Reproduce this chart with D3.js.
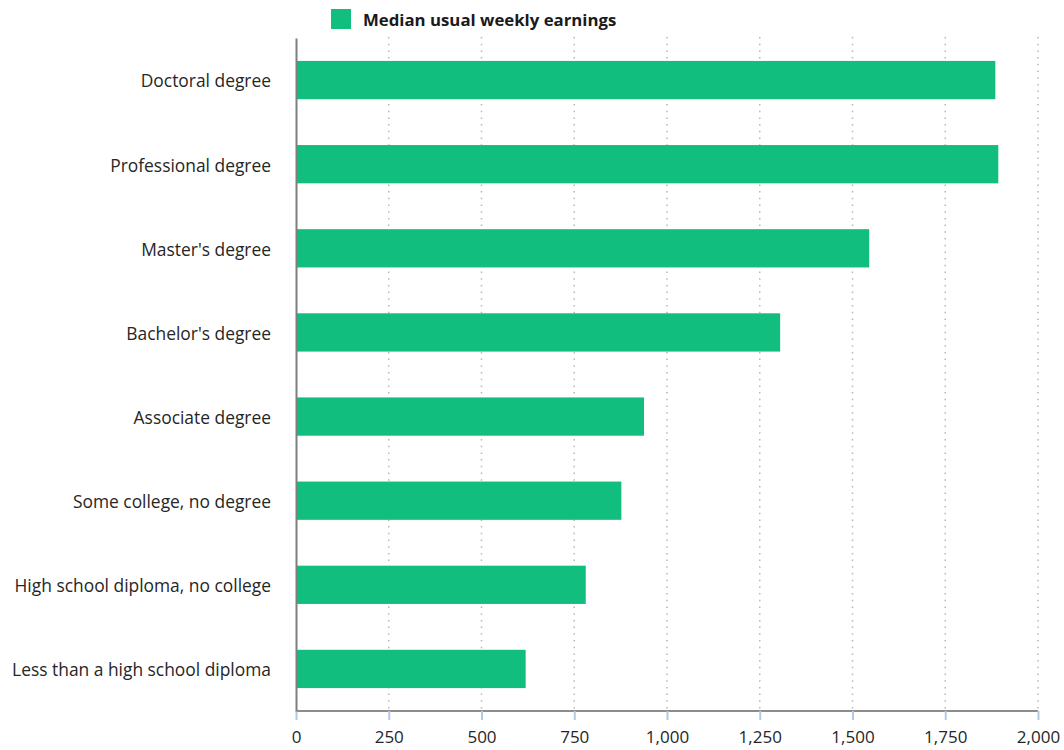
<!DOCTYPE html>
<html>
<head>
<meta charset="utf-8">
<script src="https://cdn.jsdelivr.net/npm/d3@7"></script>
<style>
  body { margin: 0; background: #fff; }
  text { font-family: "Open Sans", sans-serif; }
</style>
</head>
<body>
<div id="chart-area"></div>
<script>
// median usual weekly earnings by education
var categories = [
  "Doctoral degree",
  "Professional degree",
  "Master's degree",
  "Bachelor's degree",
  "Associate degree",
  "Some college, no degree",
  "High school diploma, no college",
  "Less than a high school diploma"
];
var earnings = [1885, 1893, 1545, 1305, 938, 877, 781, 619];
var xTicks = [0, 250, 500, 750, 1000, 1250, 1500, 1750, 2000];
var seriesName = "Median usual weekly earnings";

var data = categories.map((c, i) => ({ cat: c, value: earnings[i] }));

var width = 1064;
var height = 750;
var margin = { top: 38, right: 26, bottom: 39, left: 296 };
var chartWidth = width - margin.left - margin.right;
var chartHeight = height - margin.top - margin.bottom;

var svg = d3.select("#chart-area")
  .append("svg")
  .attr("width", width)
  .attr("height", height);

var g = svg.append("g")
  .attr("transform", "translate(" + margin.left + ", " + margin.top + ")");

var x = d3.scaleLinear()
  .domain([0, 2000])
  .range([0, chartWidth]);

var y = d3.scaleBand()
  .domain(categories)
  .range([0, chartHeight])
  .paddingInner(0.545)
  .paddingOuter(0.2725);

// dotted gridlines
g.selectAll(".grid")
  .data(xTicks.slice(1))
  .enter().append("line")
  .attr("class", "grid")
  .attr("x1", d => x(d))
  .attr("x2", d => x(d))
  .attr("y1", -1)
  .attr("y2", chartHeight)
  .attr("stroke", "#b8b8b8")
  .attr("stroke-width", 1.5)
  .attr("stroke-dasharray", "1.5,5.2");

// bars
g.selectAll(".bar")
  .data(data)
  .enter().append("rect")
  .attr("class", "bar")
  .attr("x", x(0))
  .attr("y", d => y(d.cat))
  .attr("width", d => x(d.value) - x(0))
  .attr("height", y.bandwidth())
  .attr("fill", "#11be7d");

// x axis
var xAxisG = g.append("g")
  .attr("transform", "translate(0, " + chartHeight + ")")
  .call(d3.axisBottom(x).tickValues(xTicks).tickSize(9).tickPadding(11).tickFormat(d3.format(",")));
xAxisG.select(".domain").attr("stroke", "#8c8c8c").attr("stroke-width", 2).attr("d", "M0,0H" + chartWidth);
xAxisG.selectAll(".tick line").attr("stroke", "#b4c7e7").attr("stroke-width", 2);
xAxisG.selectAll(".tick text")
  .attr("font-size", "17px")
  .attr("fill", "#262626")
  .style("font-family", "'Open Sans', sans-serif");

// y axis
var yAxisG = g.append("g")
  .call(d3.axisLeft(y).tickSize(0).tickPadding(25));
yAxisG.select(".domain").attr("stroke", "#7f7f7f").attr("stroke-width", 2);
yAxisG.selectAll(".tick text")
  .attr("font-size", "17.4px")
  .attr("dy", "0.42em")
  .attr("fill", "#262626")
  .style("font-family", "'Open Sans', sans-serif");

// legend
var legend = svg.append("g")
  .attr("transform", "translate(331, 9)");
legend.append("rect")
  .attr("width", 20)
  .attr("height", 20)
  .attr("fill", "#11be7d");
legend.append("text")
  .attr("x", 32)
  .attr("y", 17)
  .attr("font-size", "16.8px")
  .attr("font-weight", "bold")
  .attr("fill", "#1a1a1a")
  .text(seriesName);
</script>
</body>
</html>
